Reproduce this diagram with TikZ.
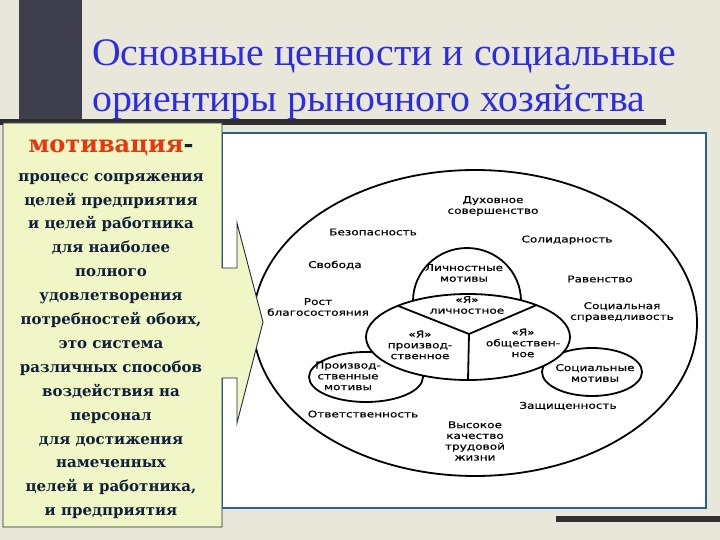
\documentclass[tikz,border=0pt]{standalone}
\usepackage{fontspec}
\setmainfont{Liberation Serif}
\newfontfamily\titlefont{Liberation Serif}[FakeStretch=1.02]
\newfontfamily\boxfont{DejaVu Serif}
\newfontfamily\dfont{DejaVu Sans}[FakeStretch=1.3,FakeBold=0.4]
\usetikzlibrary{shapes.geometric}
\definecolor{bgbeige}{RGB}{233,231,218}
\definecolor{darkbar}{RGB}{62,62,76}
\definecolor{hbar}{RGB}{47,47,47}
\definecolor{titleblue}{RGB}{44,44,228}
\definecolor{boxfill}{RGB}{240,246,198}
\definecolor{boxline}{RGB}{28,44,60}
\definecolor{navytext}{RGB}{16,32,58}
\definecolor{motred}{RGB}{232,54,14}
\definecolor{panelblue}{RGB}{42,96,153}
\begin{document}
\begin{tikzpicture}[x=1pt,y=-1pt,
  lbl/.style={font=\dfont\fontsize{9.3}{10.8}\selectfont, align=center, text=black, inner sep=0pt},
  oval/.style={ellipse, draw=black, line width=1.8pt, inner sep=0pt, outer sep=0pt},
  divline/.style={draw=black, line width=1.8pt},
  titletext/.style={font=\titlefont\fontsize{39}{44}\selectfont, text=titleblue, inner sep=0pt, anchor=base west},
  boxtext/.style={font=\boxfont\bfseries\fontsize{15}{23.9}\selectfont, text=navytext, align=center, inner sep=0pt}
]
\useasboundingbox (0,0) rectangle (720,540);
% background
\fill[bgbeige] (0,0) rectangle (720,540);
\fill[darkbar] (19,0) rectangle (82,121);
\fill[hbar] (0,119) rectangle (666,125);
\fill[hbar] (556,516) rectangle (720,522);
% title
\node[titletext] (title1) at (92,66) {Основные ценности и социальные};
\node[titletext] (title2) at (92,112) {ориентиры рыночного хозяйства};
% panel
\draw[fill=white, draw=panelblue, line width=1.2pt] (222,133) rectangle (706,508);
% diagram shapes
\node[oval, minimum width=444pt, minimum height=306pt] (outer) at (475,323) {};
\node[oval, fill=white, minimum width=108pt, minimum height=106pt] (lm) at (467,301) {};
\node[oval, fill=white, minimum width=114pt, minimum height=50pt] (pm) at (366,377) {};
\node[oval, fill=white, minimum width=100pt, minimum height=48pt] (sm) at (592,372) {};
\node[oval, fill=white, minimum width=204pt, minimum height=86pt] (ya) at (468,337) {};
\coordinate (yc) at (469,334);
\draw[divline] (ya.156.7) -- (yc) -- (ya.25.9);
\draw[divline] (yc) -- (ya.south);
% diagram texts
\node[lbl] (dux) at (493,206) {Духовное\\совершенство};
\node[lbl] (bez) at (373,232) {Безопасность};
\node[lbl] (sol) at (567,240) {Солидарность};
\node[lbl] (svo) at (335,265) {Свобода};
\node[lbl] (rav) at (600,279) {Равенство};
\node[lbl] (rost) at (318,307) {Рост\\благосостояния};
\node[lbl] (sprav) at (622,312) {Социальная\\справедливость};
\node[lbl] (lmt) at (464,273) {Личностные\\мотивы};
\node[lbl] (yal) at (467,305) {«Я»\\личностное};
\node[lbl] (yap) at (420,345) {«Я»\\производ-\\ственное};
\node[lbl] (yao) at (523,343) {«Я»\\обществен-\\ное};
\node[lbl] (pmt) at (348,376) {Производ-\\ственные\\мотивы};
\node[lbl] (smt) at (595,373) {Социальные\\мотивы};
\node[lbl] (otv) at (363,414) {Ответственность};
\node[lbl] (zas) at (568,406) {Защищенность};
\node[lbl] (vys) at (475,441) {Высокое\\качество\\трудовой\\жизни};
% left callout box
\draw[fill=boxfill, draw=boxline, line width=0.9pt]
  (3,123) -- (222,123) -- (222,268) -- (237,268) -- (237,223) -- (263,322)
  -- (237,423) -- (237,378) -- (222,378) -- (222,527) -- (3,527) -- cycle;
\node[inner sep=0pt, font=\boxfont\bfseries\fontsize{24}{26}\selectfont] (mot) at (111,148)
  {\textcolor{motred}{мотивация}\textcolor{navytext}{-}};
\node[boxtext] (body) at (111,346) {процесс сопряжения\\ целей предприятия\\ и целей работника\\ для наиболее\\ полного\\ удовлетворения\\ потребностей обоих,\\ это система\\ различных способов\\ воздействия на\\ персонал\\ для достижения\\ намеченных\\ целей и работника,\\ и предприятия};
\end{tikzpicture}
\end{document}
